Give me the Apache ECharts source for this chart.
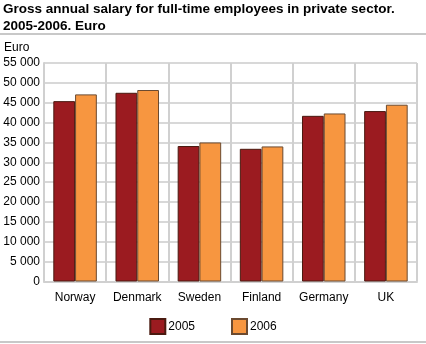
<!DOCTYPE html>
<html><head><meta charset="utf-8">
<script src="https://cdn.jsdelivr.net/npm/echarts@6/dist/echarts.min.js"></script>
<style>html,body{margin:0;padding:0;background:#fff}#c{width:426px;height:344px}</style>
</head><body><div id="c"></div>
<script>
const categories = ['Norway','Denmark','Sweden','Finland','Germany','UK'];
const seriesNames = ['2005','2006'];
const values2005 = [45400, 47500, 34100, 33400, 41700, 42900];
const values2006 = [47100, 48200, 35000, 34000, 42300, 44500];
const yTicks = {min:0, max:55000, interval:5000};

const chart = echarts.init(document.getElementById('c'), null, {renderer:'canvas'});
const font = '"Liberation Sans", Arial, sans-serif';
chart.setOption({
  animation:false,
  textStyle:{fontFamily:font},
  title:{text:'Gross annual salary for full-time employees in private sector.\n2005-2006. Euro',
    left:3, top:1, padding:0, textStyle:{fontSize:13.5, fontWeight:'bold', color:'#000', lineHeight:17, fontFamily:font}},
  graphic:[
    {type:'rect', shape:{x:0,y:33,width:426,height:2}, style:{fill:'#c8c8c8'}},
    {type:'rect', shape:{x:0,y:341,width:426,height:2}, style:{fill:'#c8c8c8'}},
    {type:'text', left:4, top:42, style:{text:'Euro', fontSize:12, fill:'#000', fontFamily:font}}
  ],
  legend:{bottom:9, padding:0, left:'center', itemWidth:15, itemHeight:15, itemGap:36, icon:'rect',
    textStyle:{fontSize:12, color:'#000', fontFamily:font, padding:[0,0,0,-2]}, data:seriesNames},
  grid:{left:44, right:9, top:63, bottom:62.5, containLabel:false},
  xAxis:{type:'category', data:categories,
    axisLine:{show:true, lineStyle:{color:'#d0d0d0', width:2}},
    axisTick:{show:false},
    splitLine:{show:true, lineStyle:{color:'#d0d0d0', width:2}},
    axisLabel:{interval:0, fontSize:12, color:'#000', margin:10, fontFamily:font}},
  yAxis:{type:'value', min:yTicks.min, max:yTicks.max, interval:yTicks.interval,
    axisLine:{show:true, lineStyle:{color:'#d0d0d0', width:2}}, axisTick:{show:false},
    splitLine:{lineStyle:{color:'#d8d8d8', width:2}},
    axisLabel:{fontSize:12, color:'#000', margin:4, fontFamily:font,
      formatter:v=>String(v).replace(/\B(?=(\d{3})+(?!\d))/g,' ')}},
  series:[
    {name:seriesNames[0], type:'bar', data:values2005, barGap:'0%', barCategoryGap:'30%',
      itemStyle:{color:'#9b1b20', borderColor:'#4a1a10', borderWidth:1}},
    {name:seriesNames[1], type:'bar', data:values2006,
      itemStyle:{color:'#f79640', borderColor:'#6b4a30', borderWidth:1}}
  ]
});
</script></body></html>
